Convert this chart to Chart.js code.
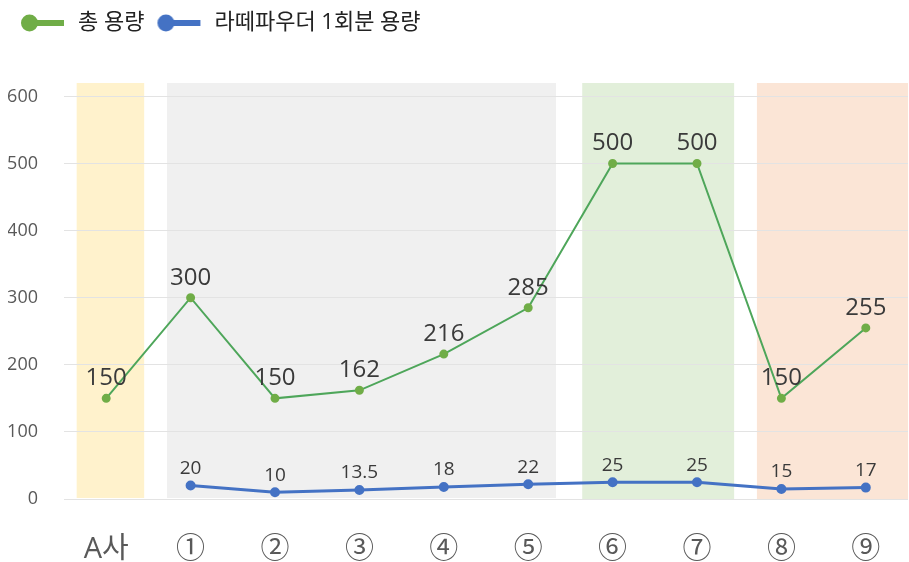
<!DOCTYPE html>
<html>
<head>
<meta charset="utf-8">
<title>용량 비교</title>
<style>
  body { margin: 0; background: #fff; }
  #wrap { width: 909px; height: 562px; }
</style>
</head>
<body>
<div id="wrap"><canvas id="chart"></canvas></div>
<script src="https://cdn.jsdelivr.net/npm/chart.js"></script>
<script>
var categories = ["A사", "①", "②", "③", "④", "⑤", "⑥", "⑦", "⑧", "⑨"];
var totalVolume = [150, 300, 150, 162, 216, 285, 500, 500, 150, 255];
var perServing = [null, 20, 10, 13.5, 18, 22, 25, 25, 15, 17];
var seriesNames = ["총 용량", "라떼파우더 1회분 용량"];
var yTicks = [0, 100, 200, 300, 400, 500, 600];
var yMax = 620;
// groups shaded behind the lines (first / last category index)
var groupFirst = [0, 1, 6, 8];
var groupLast = [0, 5, 7, 9];

var FONT = "'Open Sans', 'Noto Sans CJK KR', sans-serif";
var bandColors = ["#FFF2CC", "#F0F0F0", "#E2EFDA", "#FBE5D6"];
var bandLeft = [-0.35, -0.28, -0.36, -0.29];
var bandRight = [0.45, 0.33, 0.44, 0.5];

// little "line with a dot" marker for the legend
function legendMarker(color) {
    var c = document.createElement("canvas");
    c.width = 47; c.height = 18;
    var g = c.getContext("2d");
    g.fillStyle = color;
    g.fillRect(8, 6, 36, 6);
    g.beginPath();
    g.arc(9.5, 9, 8.5, 0, Math.PI * 2);
    g.fill();
    return c;
}

var bandsPlugin = {
    id: "bands",
    beforeDraw: function (chart) {
        var x = chart.scales.x, y = chart.scales.y, a = chart.chartArea;
        var ctx = chart.ctx;
        var step = x.getPixelForValue(1) - x.getPixelForValue(0);
        ctx.save();
        ctx.beginPath();
        ctx.rect(a.left, a.top, a.right - a.left + 2, a.bottom - a.top + 2);
        ctx.clip();
        for (var i = 0; i < groupFirst.length; i++) {
            var x1 = x.getPixelForValue(groupFirst[i]) + bandLeft[i] * step;
            var x2 = x.getPixelForValue(groupLast[i]) + bandRight[i] * step;
            var top = y.getPixelForValue(yMax);
            var bot = y.getPixelForValue(0) - (i < 2 ? 1 : -1);
            ctx.fillStyle = bandColors[i];
            ctx.fillRect(x1, top, x2 - x1, bot - top);
        }
        ctx.restore();
    }
};

var labelsPlugin = {
    id: "valueLabels",
    afterDatasetsDraw: function (chart) {
        var ctx = chart.ctx;
        var sizes = [24, 19];
        var offs = [20, 17];
        chart.data.datasets.forEach(function (ds, di) {
            var meta = chart.getDatasetMeta(di);
            ctx.save();
            ctx.font = sizes[di] + "px " + FONT;
            ctx.fillStyle = "#3A3A3A";
            ctx.textAlign = "center";
            ctx.textBaseline = "middle";
            meta.data.forEach(function (pt, i) {
                var v = ds.data[i];
                if (v === null || v === undefined) return;
                ctx.fillText(String(v), pt.x, pt.y - offs[di]);
            });
            ctx.restore();
        });
    }
};

var legendGap = {
    id: "legendGap",
    beforeInit: function (chart) {
        var fit = chart.legend.fit;
        chart.legend.fit = function () {
            fit.bind(chart.legend)();
            this.height += 39;
        };
    }
};

new Chart(document.getElementById("chart"), {
    type: "line",
    data: {
        labels: categories,
        datasets: [{
            label: seriesNames[0],
            data: totalVolume,
            borderColor: "#4EA65A",
            backgroundColor: "#70AD47",
            pointBackgroundColor: "#70AD47",
            pointBorderColor: "#70AD47",
            borderWidth: 2,
            pointRadius: 3.5,
            tension: 0
        }, {
            label: seriesNames[1],
            data: perServing,
            borderColor: "#4472C4",
            backgroundColor: "#4472C4",
            pointBackgroundColor: "#4472C4",
            pointBorderColor: "#4472C4",
            borderWidth: 3,
            pointRadius: 3.5,
            tension: 0
        }]
    },
    options: {
        responsive: true,
        maintainAspectRatio: false,
        animation: false,
        layout: { autoPadding: false, padding: { left: 8, right: 1, top: 0, bottom: 0 } },
        scales: {
            x: {
                offset: true,
                grid: { display: false, drawTicks: false },
                border: { display: false },
                ticks: { color: "#595959", font: { size: 29, family: FONT }, padding: 33, maxRotation: 0, autoSkip: false },
                afterFit: function (axis) {
                    axis.height = 63;
                    axis.paddingLeft = 0;
                    axis.paddingRight = 0;
                }
            },
            y: {
                min: 0,
                max: yMax,
                afterBuildTicks: function (axis) {
                    axis.ticks = yTicks.map(function (v) { return { value: v }; });
                },
                grid: { color: "#E3E3E3", drawTicks: false },
                border: { display: false },
                ticks: { color: "#595959", font: { size: 18, family: FONT }, padding: 26 },
                afterFit: function (axis) { axis.width = 56; }
            }
        },
        plugins: {
            legend: {
                position: "top",
                align: "start",
                labels: {
                    usePointStyle: true,
                    pointStyleWidth: 47,
                    padding: 12,
                    color: "#222",
                    font: { size: 22, family: FONT },
                    generateLabels: function (chart) {
                        var items = Chart.defaults.plugins.legend.labels.generateLabels(chart);
                        items.forEach(function (it, i) {
                            it.pointStyle = legendMarker(i === 0 ? "#70AD47" : "#4472C4");
                            it.lineWidth = 0;
                        });
                        return items;
                    }
                }
            },
            tooltip: { enabled: false }
        }
    },
    plugins: [bandsPlugin, labelsPlugin, legendGap]
});
</script>
</body>
</html>
